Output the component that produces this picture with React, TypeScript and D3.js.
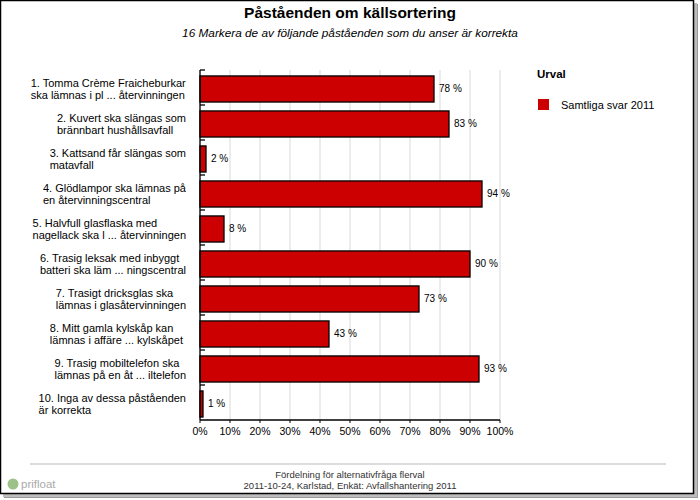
import React from "react";
import * as d3 from "d3";

const categories: string[][] = [
  ["1. Tomma Crème Fraicheburkar", "ska lämnas i pl ... återvinningen"],
  ["2. Kuvert ska slängas som", "brännbart hushållsavfall"],
  ["3. Kattsand får slängas som", "matavfall"],
  ["4. Glödlampor ska lämnas på", "en återvinningscentral"],
  ["5. Halvfull glasflaska med", "nagellack ska l ... återvinningen"],
  ["6. Trasig leksak med inbyggt", "batteri ska läm ... ningscentral"],
  ["7. Trasigt dricksglas ska", "lämnas i glasåtervinningen"],
  ["8. Mitt gamla kylskåp kan", "lämnas i affäre ...  kylskåpet"],
  ["9. Trasig mobiltelefon ska", "lämnas på en åt ... iltelefon"],
  ["10. Inga av dessa påståenden", "är korrekta"],
];
const values: number[] = [78, 83, 2, 94, 8, 90, 73, 43, 93, 1];
const xTicks: number[] = [0, 10, 20, 30, 40, 50, 60, 70, 80, 90, 100];
const title = "Påståenden om källsortering";
const subtitle = "16 Markera de av följande påståenden som du anser är korrekta";
const legendTitle = "Urval";
const seriesName = "Samtliga svar 2011";
const footer = ["Fördelning för alternativfråga flerval", "2011-10-24, Karlstad, Enkät: Avfallshantering 2011"];

const FONT = "'Liberation Sans', Arial, sans-serif";

let ctx: CanvasRenderingContext2D | null = null;
function measure(text: string, font: string): number {
  if (!ctx) ctx = document.createElement("canvas").getContext("2d");
  if (!ctx) return text.length * 6;
  ctx.font = font;
  return ctx.measureText(text).width;
}

export default function App() {
  const W = 700, H = 500;
  const left = 200, right = 500, top = 70, bottom = 420;
  const x = d3.scaleLinear().domain([0, 100]).range([left, right]);
  const y = d3.scaleBand<number>().domain(values.map((_, i) => i)).range([top, bottom]);
  const bw = y.bandwidth();
  const barOff = bw * 0.17;
  const barH = bw * 0.745;

  return (
    <svg width={W} height={H} style={{ position: "absolute", left: 0, top: 0, background: "#fff" }} fontFamily={FONT}>
      {/* shadow + frame */}
      <rect x={4} y={4} width={694} height={494} fill="#9a9a9a" />
      <rect x={3} y={3} width={694} height={494} fill="#bdbdbd" />
      <rect x={0.5} y={0.5} width={693} height={493} fill="#fff" stroke="#000" strokeWidth={1.5} />

      <text x={350} y={18} textAnchor="middle" fontSize={15.5} fontWeight="bold">{title}</text>
      <text x={350} y={37} textAnchor="middle" fontSize={11.8} fontStyle="italic">{subtitle}</text>

      {/* grid */}
      {xTicks.map(t => (
        <line key={"g" + t} x1={x(t)} x2={x(t)} y1={top} y2={bottom} stroke="#d9d9d9" strokeWidth={1} />
      ))}

      {/* bars */}
      {values.map((v, i) => (
        <g key={"b" + i}>
          <rect x={x(0)} y={(y(i) as number) + barOff} width={x(v) - x(0)} height={barH}
            fill="#cc0000" stroke="#000" strokeWidth={1.3} />
          <text x={x(v) + 5} y={(y(i) as number) + barOff + barH / 2 + 3.5} fontSize={10}>{v} %</text>
        </g>
      ))}

      {/* axes */}
      <line x1={left} x2={left} y1={top} y2={bottom} stroke="#000" strokeWidth={1.3} />
      <line x1={left} x2={right} y1={bottom} y2={bottom} stroke="#000" strokeWidth={1.3} />
      {values.map((_, i) => (
        <line key={"t" + i} x1={left} x2={left + 5} y1={y(i) as number} y2={y(i) as number} stroke="#000" strokeWidth={1.3} />
      ))}
      {xTicks.map(t => (
        <g key={"xt" + t}>
          <line x1={x(t)} x2={x(t)} y1={bottom} y2={bottom + 3} stroke="#000" />
          <text x={x(t)} y={bottom + 15} textAnchor="middle" fontSize={10.5}>{t}%</text>
        </g>
      ))}

      {/* category labels */}
      {categories.map((lines, i) => {
        const font = `11px ${FONT}`;
        const wMax = Math.max(...lines.map(l => measure(l, font)));
        const lx = 186 - wMax;
        const cy = (y(i) as number) + bw / 2 + 1.5;
        return (
          <text key={"c" + i} x={lx} fontSize={11}>
            {lines.map((l, j) => (
              <tspan key={j} x={lx} y={cy - 6 + j * 12 + 4}>{l}</tspan>
            ))}
          </text>
        );
      })}

      {/* legend */}
      <text x={537} y={78} fontSize={11.5} fontWeight="bold">{legendTitle}</text>
      <rect x={538} y={99} width={11} height={11} fill="#cc0000" />
      <text x={561} y={109} fontSize={11}>{seriesName}</text>

      {/* footer */}
      <line x1={30} x2={666} y1={464} y2={464} stroke="#bbb" strokeWidth={1} />
      <text x={350} y={478} textAnchor="middle" fontSize={9.5} fill="#333">{footer[0]}</text>
      <text x={350} y={489} textAnchor="middle" fontSize={9.5} fill="#333">{footer[1]}</text>

      {/* logo */}
      <circle cx={13} cy={484} r={5.5} fill="#9cc28a" />
      <text x={21} y={488} fontSize={11.5} fill="#aaa">prifloat</text>
    </svg>
  );
}
